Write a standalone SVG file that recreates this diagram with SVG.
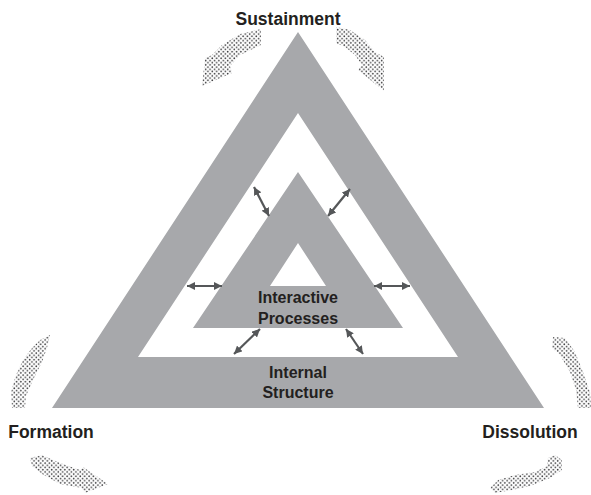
<svg xmlns="http://www.w3.org/2000/svg" width="591" height="495" viewBox="0 0 591 495">
<style>
.band{fill:#a7a8ab;fill-rule:evenodd}
.lbl{font-family:"Liberation Sans",Arial,sans-serif;font-weight:bold;fill:#231f20;text-anchor:middle}
.big{font-size:17.5px}
.small{font-size:16px}
.dbl{stroke:#555759;stroke-width:2.2;fill:none;marker-start:url(#ah);marker-end:url(#ah)}
.cyc{fill:url(#dots)}
</style>
<defs>
<marker id="ah" markerUnits="userSpaceOnUse" markerWidth="9" markerHeight="8" refX="8" refY="4" orient="auto-start-reverse">
<path d="M0,0 L8,4 L0,8 Z" fill="#555759"/>
</marker>
<pattern id="dots" patternUnits="userSpaceOnUse" width="4.4" height="4.4">
<circle cx="1.1" cy="1.1" r="0.85" fill="#3f3f41"/>
<circle cx="3.3" cy="3.3" r="0.85" fill="#3f3f41"/>
</pattern>
</defs>
<g id="internal-structure">
<path class="band" d="M298,32 L544,408 L52,408 Z M298,113 L458,357 L138,357 Z"/>
<text class="lbl small" x="298" y="378">Internal</text>
<text class="lbl small" x="298" y="398">Structure</text>
</g>
<g id="interactive-processes">
<path class="band" d="M298,172 L403,328 L193,328 Z M298,243 L326,286 L270,286 Z"/>
<text class="lbl small" x="298" y="303">Interactive</text>
<text class="lbl small" x="298" y="324">Processes</text>
</g>
<g id="sustainment">
<text class="lbl big" x="288" y="25">Sustainment</text>
</g>
<g id="formation">
<text class="lbl big" x="51" y="438">Formation</text>
</g>
<g id="dissolution">
<text class="lbl big" x="530" y="438">Dissolution</text>
</g>
<g id="connectors">
<line class="dbl" x1="254" y1="187" x2="269" y2="216"/>
<line class="dbl" x1="350" y1="189" x2="328" y2="216"/>
<line class="dbl" x1="187" y1="286" x2="222" y2="286"/>
<line class="dbl" x1="374" y1="286" x2="410" y2="286"/>
<line class="dbl" x1="260" y1="329" x2="234" y2="354"/>
<line class="dbl" x1="346" y1="329" x2="363" y2="354"/>
<path class="cyc" d="M261,29 L240,34 L222,45 L212,55 L205,58 L202,86 L232,73 L230,66 L240,55 L261,45 Z"/>
<path class="cyc" d="M336,27 L350,30 L365,40 L375,52 L384,57 L384,91 L358,70 L362,65 L355,55 L345,47 L336,43 Z"/>
<path class="cyc" d="M50,335 L47,348 L42,362 L33,380 L26,396 L25,408 L12,408 L11,392 L16,375 L23,360 L32,348 L40,340 Z"/>
<path class="cyc" d="M30,458 L42,455 L60,463 L80,470 L83,467 L108,484 L85,493 L82,488 L60,484 L42,474 L32,466 Z"/>
<path class="cyc" d="M553,337 L565,338 L575,352 L583,372 L590,392 L591,408 L578,408 L576,390 L570,372 L560,355 L552,348 Z"/>
<path class="cyc" d="M490,488 L498,480 L515,475 L535,472 L547,466 L548,458 L555,455 L562,460 L562,470 L550,478 L530,486 L512,490 L495,493 Z"/>
</g>
</svg>
